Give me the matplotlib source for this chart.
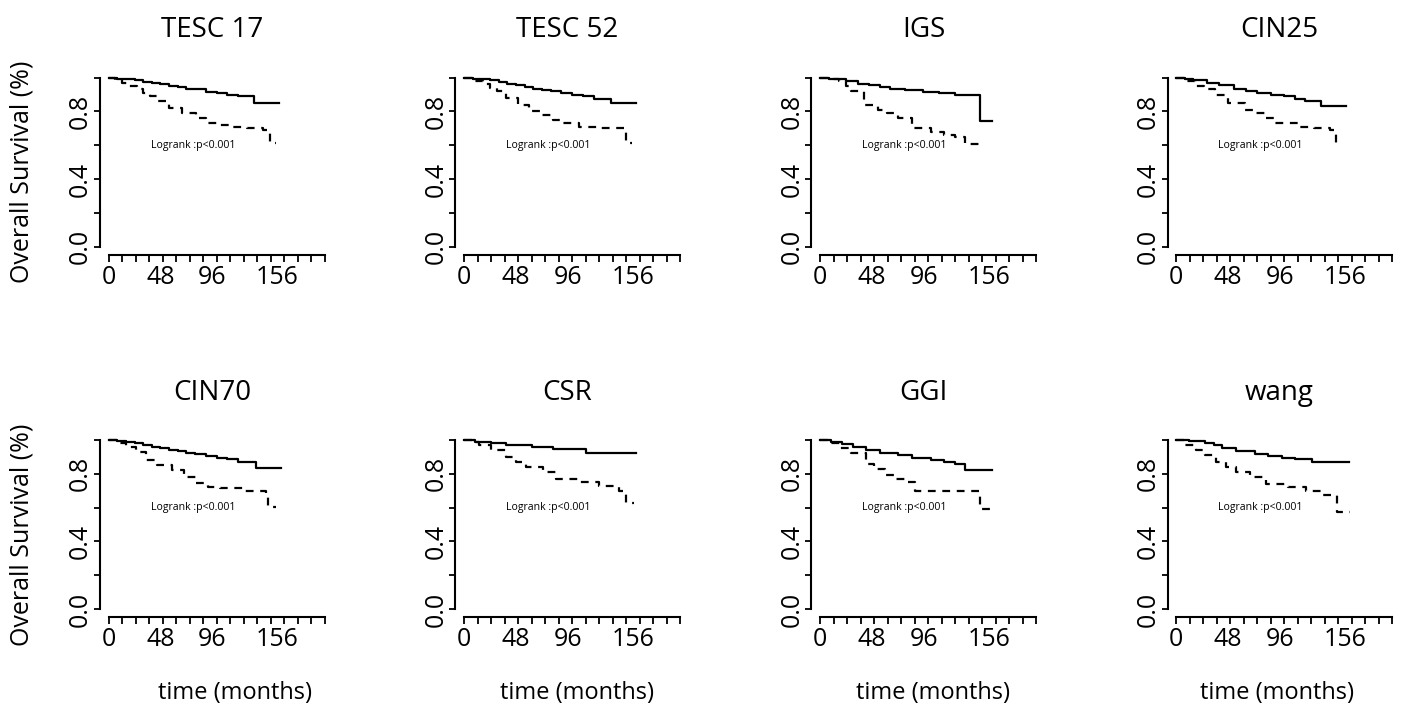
import numpy as np
from matplotlib import pyplot as plt

plt.rcParams['font.family'] = ['Open Sans', 'DejaVu Sans']

# panel names, row by row
titles = ['TESC 17', 'TESC 52', 'IGS', 'CIN25', 'CIN70', 'CSR', 'GGI', 'wang']

# survival curves (months, survival)
low_t = [
    [0, 8, 16, 24, 32, 40, 48, 56, 64, 72, 80, 90, 100, 110, 120, 135, 158],
    [0, 8, 16, 24, 32, 40, 48, 56, 64, 72, 80, 90, 100, 110, 120, 136, 159],
    [0, 8, 16, 24, 35, 45, 55, 65, 79, 95, 110, 125, 148, 159],
    [0, 8, 16, 29, 40, 54, 65, 75, 88, 100, 110, 119, 134, 157],
    [0, 8, 16, 24, 32, 40, 48, 56, 64, 72, 80, 90, 100, 110, 120, 136, 160],
    [0, 10, 25, 39, 63, 82, 113, 159],
    [0, 10, 20, 30, 42, 55, 72, 85, 103, 115, 125, 134, 159],
    [0, 12, 27, 35, 42, 55, 73, 85, 98, 110, 126, 160],
]
low_s = [
    [1, .995, .99, .985, .975, .97, .96, .95, .945, .935, .93, .915, .91, .9, .89, .85, .85],
    [1, .995, .99, .985, .975, .965, .955, .945, .935, .925, .92, .91, .9, .89, .875, .85, .85],
    [1, .995, .99, .98, .965, .955, .945, .935, .925, .915, .91, .9, .745, .745],
    [1, .995, .985, .97, .955, .93, .92, .91, .9, .89, .875, .86, .835, .835],
    [1, .995, .99, .98, .97, .96, .95, .94, .935, .925, .915, .905, .895, .885, .87, .835, .835],
    [1, .99, .98, .97, .96, .945, .92, .92],
    [1, .99, .976, .96, .94, .925, .91, .895, .88, .87, .86, .82, .82],
    [1, .995, .98, .97, .95, .935, .917, .905, .895, .89, .868, .868],
]
high_t = [
    [0, 6, 12, 19, 26, 32, 38, 45, 56, 68, 81, 90, 100, 112, 128, 143, 149, 155],
    [0, 8, 17, 24, 30, 39, 50, 60, 70, 82, 91, 106, 125, 143, 150, 155],
    [0, 8, 17, 24, 29, 41, 54, 62, 72, 85, 103, 115, 125, 134, 152],
    [0, 8, 17, 26, 36, 48, 64, 73, 82, 91, 113, 128, 142, 148, 153],
    [0, 8, 16, 25, 35, 45, 59, 70, 81, 92, 103, 125, 146, 148, 155],
    [0, 8, 14, 25, 39, 48, 57, 73, 85, 106, 125, 143, 150, 157],
    [0, 8, 18, 29, 42, 50, 60, 70, 79, 88, 147, 148, 162],
    [0, 8, 18, 27, 37, 46, 55, 68, 83, 104, 120, 135, 149, 161],
]
high_s = [
    [1, .985, .97, .95, .93, .91, .89, .86, .82, .79, .76, .73, .72, .71, .70, .69, .615, .615],
    [1, .98, .96, .94, .92, .88, .84, .80, .78, .75, .73, .71, .705, .70, .615, .615],
    [1, .99, .98, .95, .92, .84, .81, .79, .76, .70, .68, .66, .65, .61, .61],
    [1, .98, .95, .93, .90, .85, .81, .79, .76, .73, .71, .70, .69, .61, .61],
    [1, .98, .96, .93, .88, .85, .82, .78, .745, .72, .715, .70, .686, .605, .605],
    [1, .985, .97, .94, .90, .87, .84, .81, .77, .75, .73, .70, .625, .625],
    [1, .98, .95, .92, .86, .83, .79, .77, .75, .70, .69, .59, .59],
    [1, .97, .94, .91, .87, .84, .81, .78, .74, .72, .70, .675, .575, .575],
]

W, H = 1404, 709
fig = plt.figure(figsize=(W / 100, H / 100), dpi=100)

col_left = [100, 455.5, 811.5, 1167.5]
row_top = [70.9, 433.2]
ax_w, ax_h = 233.3, 184.2
xlab_x = [0.58, 0.52, 0.52, 0.47]

for i in range(8):
    r, c = divmod(i, 4)
    ax = fig.add_axes([col_left[c] / W, 1 - (row_top[r] + ax_h) / H, ax_w / W, ax_h / H])
    ax.step(low_t[i], low_s[i], where='post', color='black', lw=1.6)
    ax.step(high_t[i], high_s[i], where='post', color='black', lw=1.6, linestyle=(0, (3.5, 3)))
    ax.text(78, 0.6, 'Logrank :p<0.001', fontsize=7.6, ha='center', va='center')

    ax.set_xlim(-8, 208)
    ax.set_ylim(-0.05, 1.04)
    for s in ['top', 'right']:
        ax.spines[s].set_visible(False)
    ax.spines['left'].set_bounds(0, 1)
    ax.spines['bottom'].set_bounds(0, 200)
    ax.spines['left'].set_linewidth(1.5)
    ax.spines['bottom'].set_linewidth(1.5)

    ax.xaxis.remove_overlapping_locs = False
    ax.set_xticks([0, 48, 96, 156])
    ax.set_xticks(np.arange(0, 201, 12.5), minor=True)
    ax.tick_params(axis='x', which='major', length=0, labelsize=18, pad=7)
    ax.tick_params(axis='x', which='minor', length=5, width=1.3)
    ax.set_yticks([0, 0.2, 0.4, 0.6, 0.8, 1.0])
    ax.set_yticklabels(['0.0', '', '0.4', '', '0.8', ''], rotation=90, va='center')
    ax.tick_params(axis='y', length=4, width=1.3, labelsize=18, pad=1)

    ax.text(0.48, 1.22, titles[i], transform=ax.transAxes, ha='center', va='center', fontsize=20)

    if c == 0:
        ax.set_ylabel('Overall Survival (%)', fontsize=18, va='center')
        ax.yaxis.set_label_coords(-0.335, 0.45)
    if r == 1:
        ax.set_xlabel('time (months)', fontsize=17, va='center')
        ax.xaxis.set_label_coords(xlab_x[c], -0.41)

plt.savefig('out.png', dpi=100)
